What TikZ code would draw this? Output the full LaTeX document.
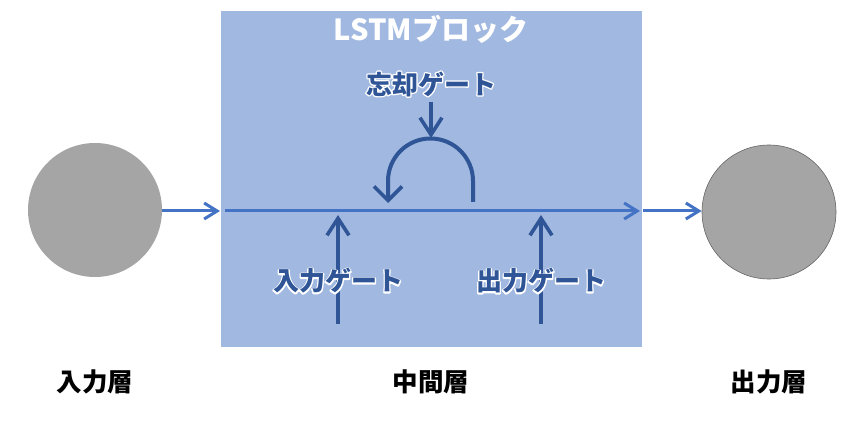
\documentclass[tikz,border=0pt]{standalone}
\usepackage{fontspec}
\newfontfamily\jp{Noto Sans CJK JP}
\usetikzlibrary{arrows.meta}
\definecolor{blockblue}{HTML}{A1B8E0}
\definecolor{lineblue}{HTML}{4472C4}
\definecolor{darkblue}{HTML}{2F5597}
\definecolor{circgray}{HTML}{A5A5A5}
\newcommand{\outlinetext}[1]{\makebox[0pt][l]{\special{pdf:literal direct q 1 1 1 RG 2.6 w 1 j 1 Tr}#1\special{pdf:literal direct 0 Tr Q}}#1}
\tikzset{
  gatetext/.style={font=\jp\bfseries\fontsize{26}{30}\selectfont, text=darkblue, inner sep=0pt},
  layertext/.style={font=\jp\bfseries\fontsize{25.5}{30}\selectfont, text=black, inner sep=0pt},
  flow/.style={draw=lineblue, line width=3pt, -{Straight Barb[length=13pt,width=16pt,line width=3pt]}},
  gate/.style={draw=darkblue, line width=4pt, -{Straight Barb[length=17pt,width=22pt,line width=3.6pt]}},
  looparrow/.style={draw=darkblue, line width=4pt, -{Straight Barb[length=14pt,width=28pt,line width=3.6pt]}},
}
\begin{document}
\begin{tikzpicture}[x=1pt,y=-1pt]
\useasboundingbox (0,0) rectangle (867,422);
\fill[blockblue] (221,11) rectangle (642,347);
\node[font=\jp\bfseries\fontsize{29}{33}\selectfont, text=white, inner sep=0pt] (title) at (431,29) {LSTMブロック};

\node[circle, fill=circgray, minimum size=134pt, inner sep=0pt] (inl) at (95,210) {};
\node[circle, fill=circgray, draw=gray!80!black, line width=0.6pt, minimum size=134pt, inner sep=0pt] (outl) at (769,212) {};

\coordinate (ms) at (225,211);
\coordinate (me) at (640,211);
\coordinate (bl) at (220,211);
\coordinate (br) at (643,211);
\draw[flow] (inl.east |- bl) -- (bl);
\draw[flow] (ms) -- (me);
\draw[flow] (br) -- (outl.west |- br);

% forget gate
\node[gatetext] (fg) at (431,84) {\outlinetext{忘却ゲート}};
\coordinate (arctop) at (431,138);
\draw[gate] (431,102) -- (arctop);
\coordinate (arcr) at (473,202);
\coordinate (arcl) at (388,203);
\draw[looparrow] (arcr) -- (473,181) arc[start angle=0, end angle=-180, radius=42.5] -- (arcl);

% input gate
\coordinate (igs) at (338,324);
\coordinate (ige) at (338,215);
\draw[gate] (igs) -- (ige);
\node[gatetext] (ig) at (338,281) {\outlinetext{入力ゲート}};

% output gate
\coordinate (ogs) at (541,324);
\coordinate (oge) at (541,215);
\draw[gate] (ogs) -- (oge);
\node[gatetext] (og) at (541,281) {\outlinetext{出力ゲート}};

\node[layertext] (l1) at (95,382) {入力層};
\node[layertext] (l2) at (431,382) {中間層};
\node[layertext] (l3) at (769,382) {出力層};
\end{tikzpicture}
\end{document}
